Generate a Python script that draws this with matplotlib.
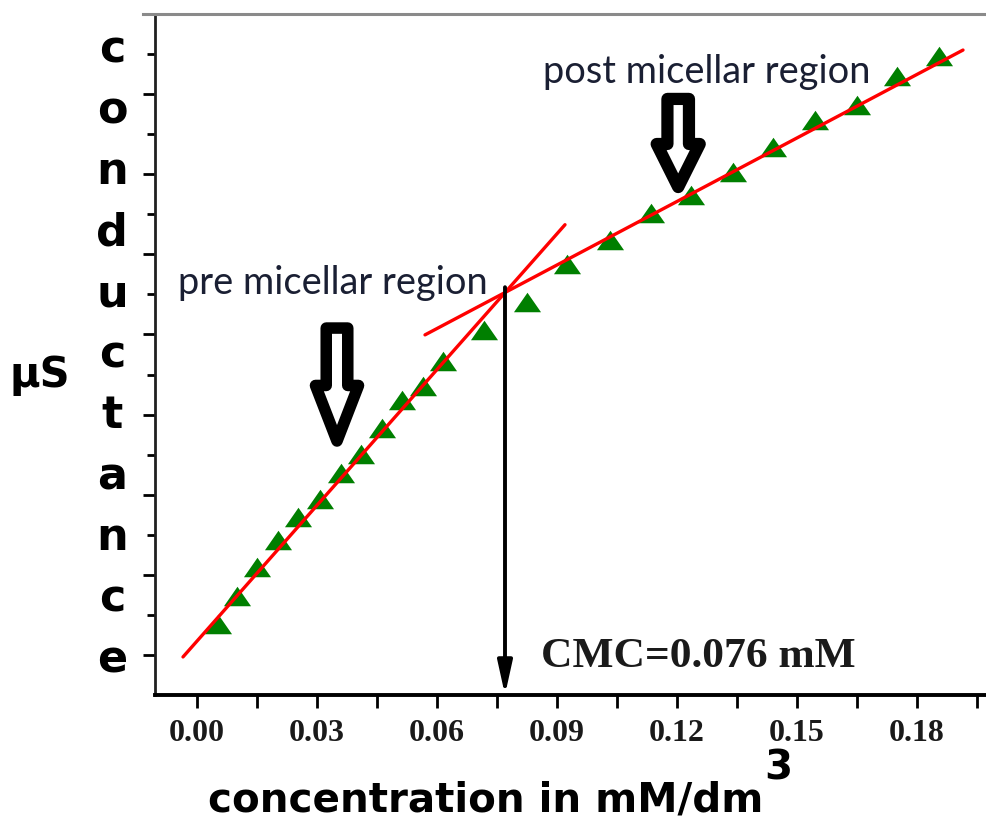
import matplotlib
matplotlib.use("Agg")
import matplotlib.pyplot as plt
from matplotlib.lines import Line2D
from matplotlib.markers import MarkerStyle
from matplotlib.ticker import FixedLocator

# ---------------- data ----------------
conc = [0.00525, 0.0100, 0.0150, 0.0203, 0.0252, 0.0308, 0.0360, 0.0410,
        0.0463, 0.0513, 0.0565, 0.0615, 0.0718, 0.0825, 0.0925, 0.1033,
        0.1135, 0.1235, 0.1340, 0.1440, 0.1545, 0.1650, 0.1750, 0.1855]
cond = [103.9, 107.4, 111.0, 114.4, 117.2, 119.5, 122.7, 125.1,
        128.3, 131.8, 133.6, 136.7, 140.5, 144.1, 148.8, 151.8,
        155.1, 157.4, 160.3, 163.4, 166.8, 168.7, 172.2, 174.7]

pre_fit_x = [-0.0035, 0.092]
pre_fit_y = [99.75, 153.7]
post_fit_x = [0.057, 0.1915]
post_fit_y = [139.95, 175.5]

cmc_x = 0.077
cmc_top = 145.9

xtick_values = [0.00, 0.03, 0.06, 0.09, 0.12, 0.15, 0.18]
xtick_labels = ["0.00", "0.03", "0.06", "0.09", "0.12", "0.15", "0.18"]
ytick_major = [100, 110, 120, 130, 140, 150, 160, 170]

ylabel_letters = list("conductance")

# ---------------- figure ----------------
W, H = 986, 821
fig = plt.figure(figsize=(W / 100, H / 100), dpi=100)
fig.patch.set_facecolor("white")

def fx(p):
    return p / W

def fy(p):
    return 1 - p / H

ax_left, ax_right, ax_top, ax_bottom = 155, 997, 14, 695
ax = fig.add_axes([fx(ax_left), fy(ax_bottom), fx(ax_right - ax_left), (ax_bottom - ax_top) / H])
ax.set_xlim(-0.0105, 0.2)
ax.set_ylim(95, 180)

# spines
ax.spines["right"].set_visible(False)
ax.spines["top"].set_visible(False)
ax.spines["left"].set_linewidth(2.0)
ax.spines["bottom"].set_linewidth(2.8)
ax.spines["left"].set_color("#202020")
ax.spines["bottom"].set_color("black")
fig.add_artist(Line2D([fx(143), fx(986)], [fy(14), fy(14)], color="#8a8a8a", lw=2.2))

# ticks
ax.xaxis.set_major_locator(FixedLocator(xtick_values))
ax.set_xticklabels(xtick_labels)
ax.xaxis.set_minor_locator(FixedLocator([v + 0.015 for v in xtick_values]))
ax.yaxis.set_major_locator(FixedLocator(ytick_major))
ax.yaxis.set_minor_locator(FixedLocator([v + 5 for v in ytick_major]))
ax.set_yticklabels([])
ax.tick_params(axis="x", which="both", direction="out", length=9, width=2, pad=8,
               labelsize=23, colors="black")
ax.tick_params(axis="y", which="major", direction="out", length=9, width=2)
ax.tick_params(axis="y", which="minor", direction="out", length=6, width=2)
for lab in ax.get_xticklabels():
    lab.set_family(["Liberation Serif", "DejaVu Serif"])
    lab.set_fontweight("bold")
    lab.set_color("#1a1a1a")

# fit lines
ax.plot(pre_fit_x, pre_fit_y, color="#ff0000", lw=2.4, zorder=4, solid_capstyle="round")
ax.plot(post_fit_x, post_fit_y, color="#ff0000", lw=2.4, zorder=4, solid_capstyle="round")

# data markers (slightly flattened triangles)
tri = MarkerStyle([(-1, -0.72), (1, -0.72), (0, 0.72), (-1, -0.72)])
ax.plot(conc, cond, linestyle="none", marker=tri, markersize=19.5,
        color="#007f00", markeredgewidth=0, zorder=3)

# CMC arrow
ax.annotate("", xy=(cmc_x, 95), xytext=(cmc_x, cmc_top),
            arrowprops=dict(arrowstyle="-|>,head_length=1.0,head_width=0.22",
                            color="black", lw=2.8, shrinkA=0, shrinkB=0,
                            mutation_scale=20),
            zorder=5)

# block arrows (hollow)
block = "simple,head_length=40,head_width=31,tail_width=15.5"
ax.annotate("", xy=(0.035, 126.7), xytext=(0.035, 140.8),
            arrowprops=dict(arrowstyle=block, mutation_scale=1, fc="white", ec="black",
                            lw=8.3, shrinkA=0, shrinkB=0, joinstyle="round"), zorder=6)
block2 = "simple,head_length=31,head_width=31,tail_width=15.5"
ax.annotate("", xy=(0.1203, 158.4), xytext=(0.1203, 169.4),
            arrowprops=dict(arrowstyle=block2, mutation_scale=1, fc="white", ec="black",
                            lw=8.8, shrinkA=0, shrinkB=0, joinstyle="round"), zorder=6)

# texts
region_font = ["Lato", "DejaVu Sans"]
ax.text(-0.00475, 146.4, "pre micellar region", fontsize=27.4, family=region_font,
        color="#1a1f33", ha="left", va="center", zorder=7)
ax.text(0.0865, 172.7, "post micellar region", fontsize=27.4, family=region_font,
        color="#1a1f33", ha="left", va="center", zorder=7)
ax.text(0.086, 99.75, "CMC=0.076 mM", fontsize=31.3, fontweight="bold",
        family=["Liberation Serif", "DejaVu Serif"], color="#1a1a1a",
        ha="left", va="center", zorder=7)

bold_sans = ["DejaVu Sans"]
fig.text(fx(208), fy(800), "concentration in mM/dm", fontsize=29.1, fontweight="bold",
         family=bold_sans, ha="left", va="center")
fig.text(fx(778), fy(768), "3", fontsize=29, fontweight="bold",
         family=bold_sans, ha="center", va="center")
fig.text(fx(40), fy(375), "µS", fontsize=30, fontweight="bold",
         family=bold_sans, ha="center", va="center")

top_letter, step = 50, 61
for i, ch in enumerate(ylabel_letters):
    fig.text(fx(112), fy(top_letter + i * step), ch, fontsize=32, fontweight="bold",
             family=bold_sans, ha="center", va="center")

fig.savefig("out.png", dpi=100, facecolor="white")
